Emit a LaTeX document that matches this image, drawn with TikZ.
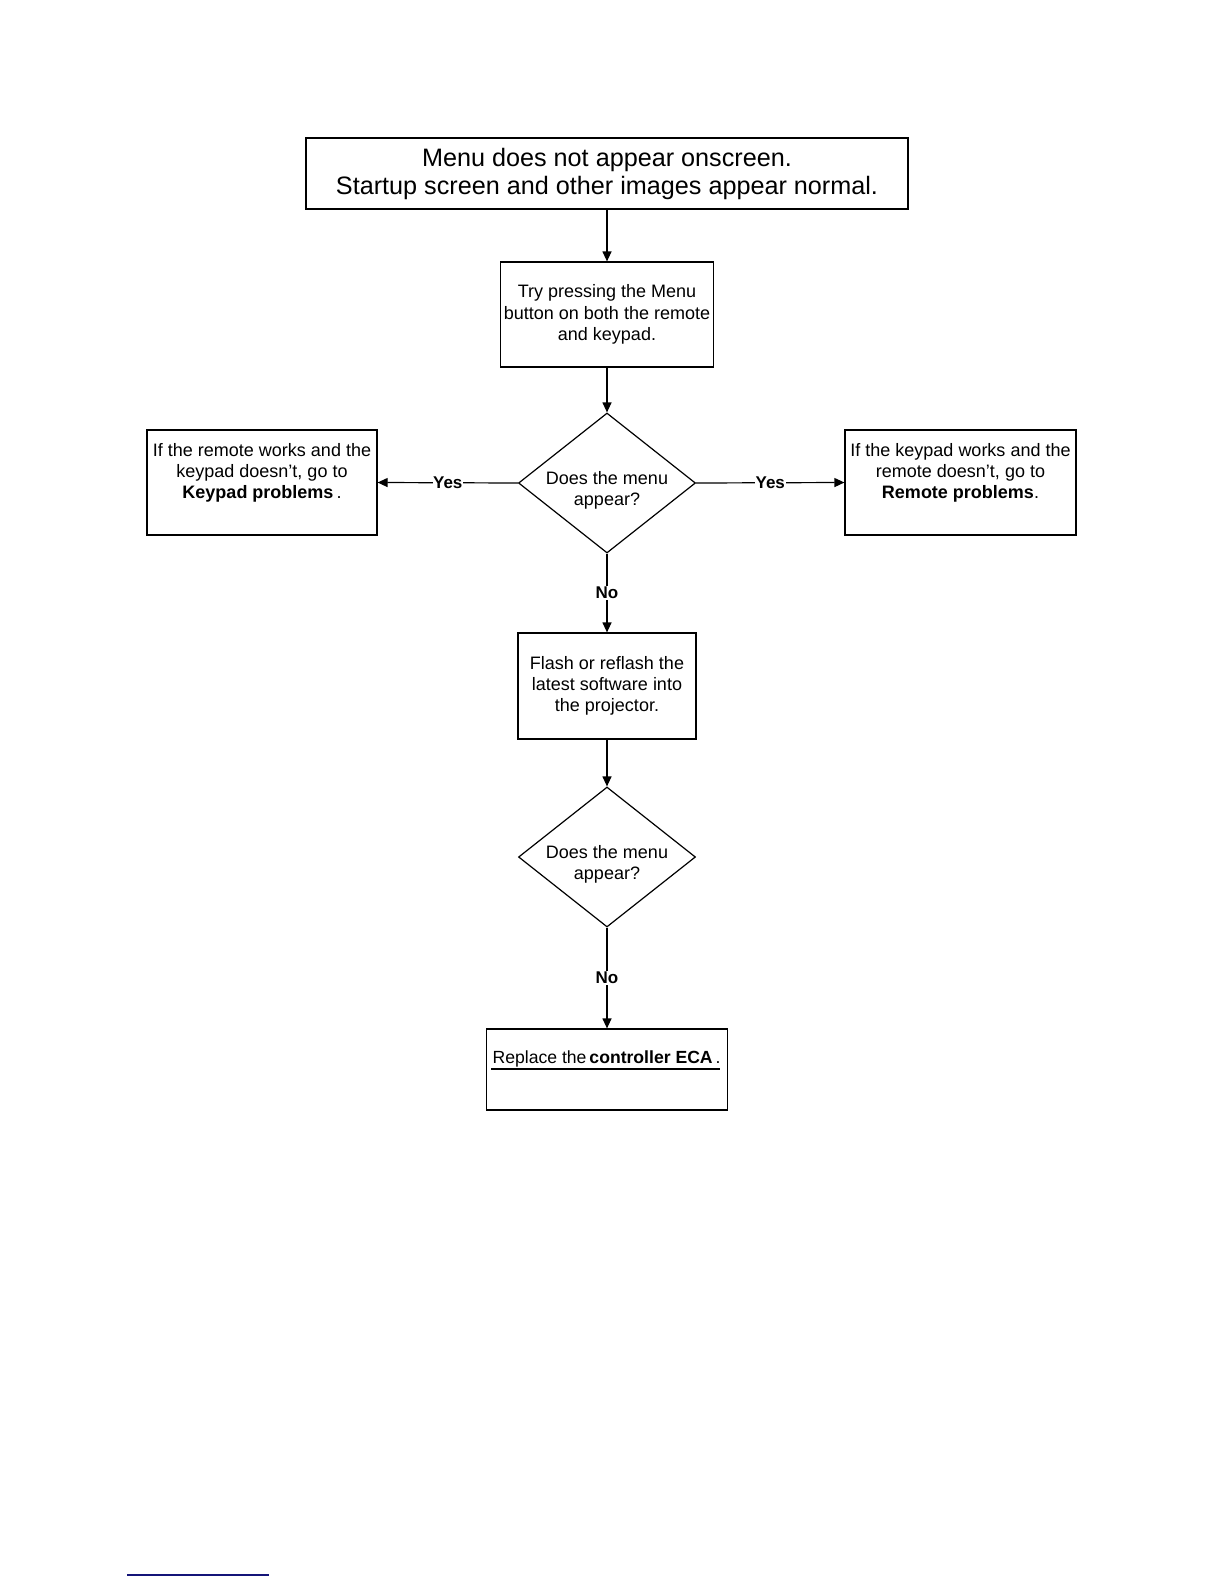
\documentclass[tikz,border=0pt]{standalone}
\usepackage{fontspec}
\setmainfont{Liberation Sans}
\usetikzlibrary{arrows.meta,shapes.geometric}
\begin{document}
\begin{tikzpicture}[x=0.5pt,y=-0.5pt,
  line width=0.6pt,
  box/.style={draw, inner sep=0pt, font=\fontsize{9}{10.6}\selectfont, align=center},
  dia/.style={draw, diamond, aspect=1.26, inner sep=0pt, minimum width=88.5pt, minimum height=70pt},
  dtext/.style={inner sep=0pt, font=\fontsize{9}{10.6}\selectfont, align=center},
  btext/.style={inner sep=0pt, font=\fontsize{9}{10.6}\selectfont, align=center, anchor=north},
  lab/.style={fill=white, inner sep=0.3pt, font=\fontsize{8.5}{9}\selectfont\bfseries},
  arr/.style={-{Triangle[length=5pt,width=4.5pt]}}
]
\useasboundingbox (0,0) rectangle (1224,1584);

\node[box, minimum width=301pt, minimum height=35.5pt, font=\fontsize{12.6}{14}\selectfont] (top) at (607,173.5)
  {Menu does not appear onscreen.\\Startup screen and other images appear normal.};

\node[box, minimum width=106.5pt, minimum height=52.5pt] (try) at (607,314.5)
  {Try pressing the Menu\\button on both the remote\\and keypad.};

\node[dia] (d1) at (607,483) {};
\node[dtext] (d1text) at (607,490) {Does the menu\\appear?};

\node[box, minimum width=115pt, minimum height=52.5pt] (lbox) at (262,482.5) {};
\node[btext] (ltext) at ([yshift=-6.5pt]lbox.north) {If the remote works and the\\keypad doesn't, go to\\\textbf{Keypad problems}\,.};

\node[box, minimum width=115.5pt, minimum height=52.5pt] (rbox) at (960.5,482.5) {};
\node[btext] (rtext) at ([yshift=-6.5pt]rbox.north) {If the keypad works and the\\remote doesn't, go to\\\textbf{Remote problems}.};

\node[box, minimum width=89pt, minimum height=53pt] (flash) at (607,686)
  {Flash or reflash the\\latest software into\\the projector.};

\node[dia] (d2) at (607,857) {};
\node[dtext] (d2text) at (607,864) {Does the menu\\appear?};

\node[box, minimum width=120.5pt, minimum height=40.5pt] (last) at (607,1069.5) {};
\node[inner sep=0pt, anchor=base west, font=\fontsize{8.8}{10.6}\selectfont] (lasttext) at (492,1063)
  {Replace the\,\textbf{controller ECA}\,.};
\coordinate (ul1) at (491,1069);
\coordinate (ul2) at (720,1069);
\draw (ul1) -- (ul2);

\draw[arr] (top) -- (try);
\draw[arr] (try) -- (d1.north);
\draw[arr] (d1.west) -- node[lab] {Yes} (lbox.east);
\draw[arr] (d1.east) -- node[lab] {Yes} (rbox.west);
\draw[arr] (d1.south) -- node[lab] {No} (flash.north);
\draw[arr] (flash) -- (d2.north);
\draw[arr] (d2.south) -- node[lab] {No} (last.north);

\coordinate (bl1) at (127,1575);
\coordinate (bl2) at (269,1575);
\draw[color={rgb,255:red,20;green,20;blue,120}, line width=0.8pt] (bl1) -- (bl2);
\end{tikzpicture}
\end{document}
